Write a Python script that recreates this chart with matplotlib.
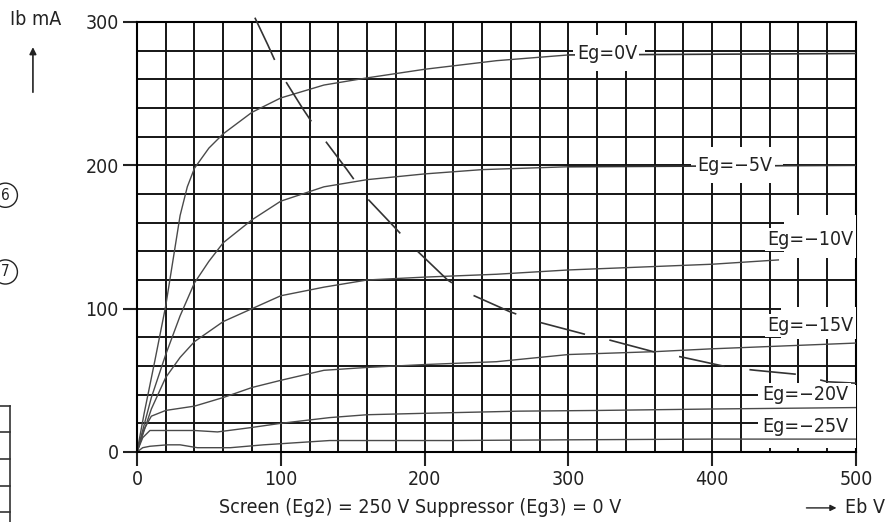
import matplotlib
matplotlib.use('Agg')
import matplotlib.pyplot as plt
from matplotlib.patches import Rectangle
from matplotlib.lines import Line2D

plt.rcParams['font.family'] = ['DejaVu Sans']
plt.rcParams['font.stretch'] = 'condensed'

# plate voltage (V) / plate current (mA)
eb_0 = [0, 5, 12.5, 20, 30, 35, 40, 50, 60, 80, 100, 130, 160, 200, 250, 300]
ib_0 = [0, 27, 64, 102, 165, 185, 198, 212, 222, 237, 247, 256, 261, 267, 273, 277]

eb_5 = [0, 10, 20, 30, 40, 50, 60, 80, 100, 130, 160, 200, 240, 300]
ib_5 = [0, 38, 68, 95, 118, 133, 146, 162, 175, 185, 190, 194, 197, 199]

eb_10 = [0, 10, 20, 30, 40, 60, 80, 100, 130, 160, 200, 250, 300, 350, 400, 446]
ib_10 = [0, 30, 52, 66, 77, 91, 100, 109, 115, 120, 122, 124, 127, 129, 131, 134]

eb_15 = [0, 5, 10, 20, 40, 60, 80, 100, 130, 160, 200, 250, 300, 360, 400, 450, 500]
ib_15 = [0, 16, 25, 29, 32, 38, 45, 50, 57, 59, 61, 63, 68, 70, 72, 74, 76]

eb_20 = [0, 4, 9, 20, 40, 56, 79, 100, 134, 160, 200, 266, 322, 400, 500]
ib_20 = [0, 10, 15, 15, 15, 14, 17, 20, 24, 26, 27, 28.5, 29, 30, 31]

eb_25 = [0, 4, 9, 21, 30, 42, 65, 88, 134, 160, 218, 300, 400, 500]
ib_25 = [0, 3, 4, 5, 5, 3, 3, 5, 8, 8, 8, 8.5, 9, 9]

# max plate dissipation (dashed)
eb_pd = [82, 91, 100, 115, 125, 146, 161, 178, 191, 216, 230, 259, 278, 312, 329, 359, 380, 412, 430, 461, 480, 500]
ib_pd = [303, 284, 264, 240, 225, 197, 176, 158, 144, 120, 111, 98, 91, 82, 78, 70, 66, 59, 57, 54, 49, 48]

curves = [(eb_0, ib_0), (eb_5, ib_5), (eb_10, ib_10),
          (eb_15, ib_15), (eb_20, ib_20), (eb_25, ib_25)]
labels = ['Eg=0V', 'Eg=\u22125V', 'Eg=\u221210V', 'Eg=\u221215V', 'Eg=\u221220V', 'Eg=\u221225V']
label_x = [327, 416, 468, 468, 465, 465]
label_y = [278, 200, 148, 88, 40, 18]

# white areas where the grid is blanked out around the labels (x0, x1, y0, y1)
blank = [(303, 353, 266, 291), (385, 449, 188, 213), (450, 500, 135, 165),
         (448, 500, 79, 101), (432, 500, 3, 47)]

fig = plt.figure(figsize=(8.9, 5.22), dpi=100)
ax = fig.add_axes([0.1539, 0.1341, 0.8079, 0.8238])

ax.set_xlim(0, 500)
ax.set_ylim(0, 300)
ax.set_xticks(range(0, 501, 100))
ax.set_yticks(range(0, 301, 100))
ax.set_xticks(range(0, 501, 20), minor=True)
ax.set_yticks(range(0, 301, 20), minor=True)
ax.set_axisbelow(True)
ax.grid(which='both', color='#151515', linewidth=1.4)
ax.tick_params(which='major', direction='out', length=10, width=1.5,
               labelsize=14, pad=3, colors='#222222')
ax.tick_params(which='minor', length=0)
for s in ['left', 'bottom']:
    ax.spines[s].set_linewidth(1.5)
for s in ['top', 'right']:
    ax.spines[s].set_linewidth(1.5)
    ax.spines[s].set_zorder(0.6)

for x0, x1, y0, y1 in blank:
    ax.add_patch(Rectangle((x0, y0), x1 - x0, y1 - y0, facecolor='white',
                           edgecolor='none', zorder=1))

for (xs, ys) in curves:
    ax.plot(xs, ys, color='#4a4a4a', linewidth=1.0, zorder=2)

# leader lines from curve ends to the right edge
ax.plot([eb_0[-1], 500], [ib_0[-1], label_y[0]], color='#333333', linewidth=1.2, zorder=2)
ax.plot([eb_5[-1], 500], [ib_5[-1], label_y[1]], color='#333333', linewidth=1.2, zorder=2)

ax.plot(eb_pd, ib_pd, color='#333333', linewidth=1.2, linestyle=(0, (28, 15)),
        zorder=2, clip_on=False)

for t, x, y in zip(labels, label_x, label_y):
    ax.text(x, y, t, ha='center', va='center', fontsize=14, color='#222222', zorder=4,
            bbox=dict(boxstyle='square,pad=0.1', facecolor='white', edgecolor='none'))

fig.text(0.011, 0.962, 'Ib mA', fontsize=14, color='#222222', va='center')
ax.annotate('', xy=(0.037, 0.915), xytext=(0.037, 0.818), xycoords='figure fraction',
            arrowprops=dict(arrowstyle='-|>', color='#222222', lw=1.2, mutation_scale=10))

fig.text(0.472, 0.027, 'Screen (Eg2) = 250 V Suppressor (Eg3) = 0 V', fontsize=14,
         color='#222222', ha='center', va='center')
fig.text(0.949, 0.027, 'Eb V', fontsize=14, color='#222222', va='center')
ax.annotate('', xy=(0.943, 0.027), xytext=(0.903, 0.027), xycoords='figure fraction',
            arrowprops=dict(arrowstyle='-|>', color='#222222', lw=1.0, mutation_scale=9))

# fragments of neighbouring page content at the left edge
for yy, num in [(0.626, '6'), (0.479, '7')]:
    fig.text(0.006, yy, num, fontsize=11, ha='center', va='center', color='#222222',
             bbox=dict(boxstyle='circle,pad=0.3', facecolor='white', edgecolor='#222222'))
fig.add_artist(Line2D([0.011, 0.011], [0, 0.222], color='#333333', lw=1.2))
for yy in [0.222, 0.172, 0.121, 0.069, 0.019]:
    fig.add_artist(Line2D([0, 0.011], [yy, yy], color='#333333', lw=1.2))

fig.savefig('out.png', dpi=100)
